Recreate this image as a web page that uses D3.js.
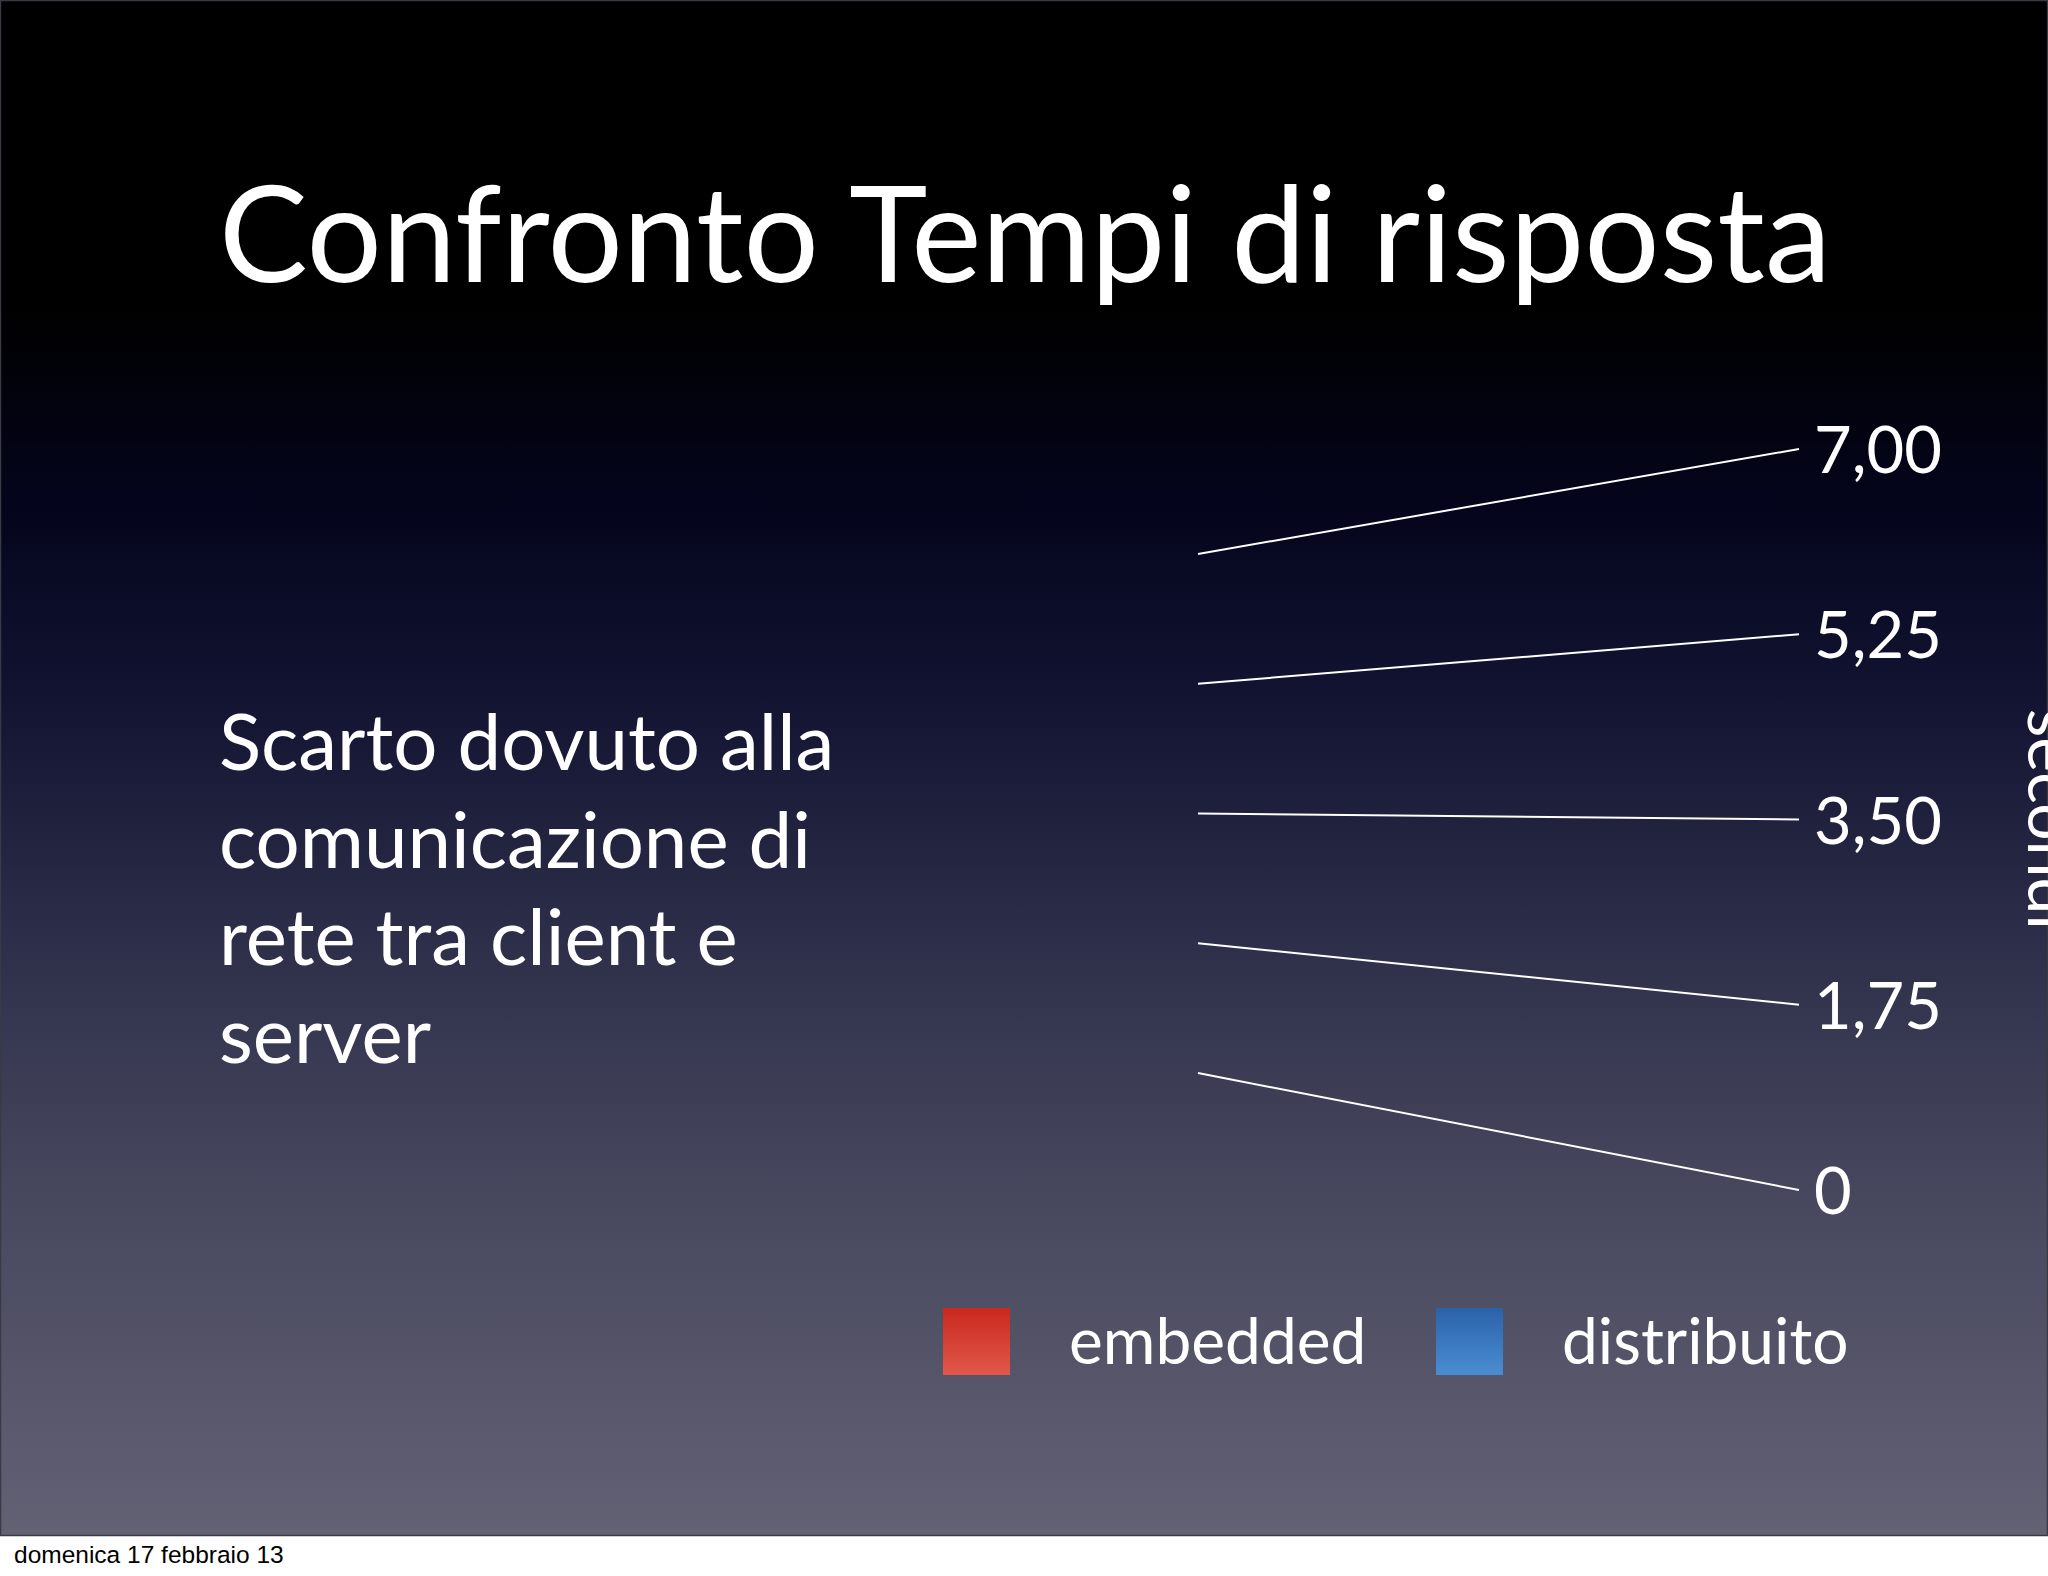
<!DOCTYPE html>
<html>
<head>
<meta charset="utf-8">
<script src="https://cdnjs.cloudflare.com/ajax/libs/d3/7.8.5/d3.min.js"></script>
<style>
	body { margin: 0; background: #fff; }
	svg { display: block; }
	.slide-text { font-family: Lato, "Open Sans", sans-serif; fill: #fff; }
</style>
</head>
<body>
<div id="slide"></div>
<script>
// Slide data
var title = "Confronto Tempi di risposta";
var bodyLines = ["Scarto dovuto alla", "comunicazione di", "rete tra client e", "server"];
var tickValues = [0, 1.75, 3.5, 5.25, 7];
var tickLabels = ["0", "1,75", "3,50", "5,25", "7,00"];
var axisTitle = "secondi";
var seriesNames = ["embedded", "distribuito"];
var seriesColors = [["#c9281d", "#e2584c"], ["#2a62aa", "#4b8dd2"]];
var footer = "domenica 17 febbraio 13";

// SVG width and height
var width = 2048;
var height = 1576;
var slideH = 1536;

var svg = d3.select("#slide").append("svg")
	.attr("width", width)
	.attr("height", height);

var defs = svg.append("defs");

// Background gradient of the slide
var bg = defs.append("linearGradient")
	.attr("id", "bg")
	.attr("x1", 0).attr("y1", 0).attr("x2", 0).attr("y2", 1);
[[0, "#000000"], [0.2, "#000000"], [0.33, "#04051c"], [0.45, "#121331"],
 [0.6, "#2b2c47"], [0.75, "#43445b"], [1, "#636174"]].forEach(function(s){
	bg.append("stop").attr("offset", s[0]).attr("stop-color", s[1]);
});

svg.append("rect")
	.attr("x", 0).attr("y", 0)
	.attr("width", width).attr("height", slideH)
	.attr("fill", "url(#bg)");
// thin frame round the slide
svg.append("rect")
	.attr("x", 0.5).attr("y", 0.5)
	.attr("width", width - 1).attr("height", slideH - 1)
	.attr("fill", "none")
	.attr("stroke", "#3a3a44")
	.attr("stroke-width", 1.5);

// Title
svg.append("text")
	.attr("class", "slide-text")
	.attr("x", 219).attr("y", 282)
	.style("font-size", "133px")
	.text(title);

// Body text
svg.append("g").selectAll("text")
	.data(bodyLines)
	.enter().append("text")
	.attr("class", "slide-text")
	.attr("x", 219)
	.attr("y", function(d, i){ return 770 + i * 97.5; })
	.style("font-size", "78px")
	.text(function(d){ return d; });

// Perspective value scales: back edge and front edge of the chart wall
var xBack = 1198, xFront = 1799;
var yBack = d3.scaleLinear().domain([0, 7]).range([1073, 554]);
var yFront = d3.scaleLinear().domain([0, 7]).range([1190, 449]);

var grid = svg.append("g");
grid.selectAll("line")
	.data(tickValues)
	.enter().append("line")
	.attr("x1", xBack).attr("y1", function(d){ return yBack(d); })
	.attr("x2", xFront).attr("y2", function(d){ return yFront(d); })
	.attr("stroke", "#fff")
	.attr("stroke-width", 2);

// Tick labels
grid.selectAll("text")
	.data(tickValues)
	.enter().append("text")
	.attr("class", "slide-text")
	.attr("x", xFront + 15)
	.attr("y", function(d){ return yFront(d) + 24; })
	.style("font-size", "65px")
	.text(function(d, i){ return tickLabels[i]; });

// Axis title, rotated and cut by the slide edge as in the original
var midY = (yFront(0) + yFront(7)) / 2;
svg.append("text")
	.attr("class", "slide-text")
	.attr("transform", "translate(2028," + midY + ") rotate(90)")
	.attr("text-anchor", "middle")
	.style("font-size", "66px")
	.text(axisTitle);

// Legend
var legX = [943, 1436];
seriesNames.forEach(function(name, i){
	var g = defs.append("linearGradient")
		.attr("id", "leg" + i)
		.attr("x1", 0).attr("y1", 0).attr("x2", 0).attr("y2", 1);
	g.append("stop").attr("offset", 0).attr("stop-color", seriesColors[i][0]);
	g.append("stop").attr("offset", 1).attr("stop-color", seriesColors[i][1]);
});
var leg = svg.append("g").selectAll("g")
	.data(seriesNames)
	.enter().append("g")
	.attr("transform", function(d, i){ return "translate(" + legX[i] + ",1308)"; });
leg.append("rect")
	.attr("width", 67).attr("height", 67)
	.attr("fill", function(d, i){ return "url(#leg" + i + ")"; });
leg.append("text")
	.attr("class", "slide-text")
	.attr("x", 126).attr("y", 56)
	.style("font-size", "64px")
	.text(function(d){ return d; });

// Footer date under the slide
svg.append("text")
	.attr("x", 14).attr("y", 1563)
	.style("font-family", "'Liberation Sans', Arial, sans-serif")
	.style("font-size", "24.5px")
	.attr("fill", "#000")
	.text(footer);
</script>
</body>
</html>
